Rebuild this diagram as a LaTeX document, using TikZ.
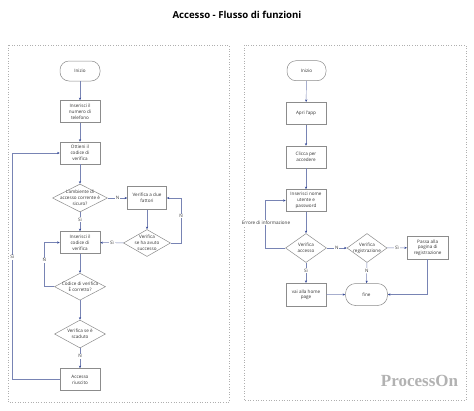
\documentclass[tikz,border=0pt]{standalone}
\usepackage{fontspec}
\setmainfont{Open Sans}
\newfontfamily\wmfont{Liberation Serif}
\usetikzlibrary{shapes.geometric,arrows.meta}
\definecolor{edgec}{RGB}{120,132,180}
\definecolor{tipc}{RGB}{50,70,150}
\definecolor{boxc}{RGB}{140,140,140}
\definecolor{panelc}{RGB}{175,175,175}
\tikzset{
  x=1pt,y=-1pt,
  txt/.style={font=\fontsize{4.6}{5.8}\selectfont, align=center, text=black!80},
  stepbox/.style={draw=boxc, line width=0.5pt, minimum width=40pt, minimum height=22pt, inner sep=1pt, txt},
  termbox/.style={stepbox, rounded corners=9pt, minimum height=20pt},
  decbox/.style={draw=boxc, line width=0.5pt, diamond, inner sep=0pt},
  dectxt/.style={txt},
  conn/.style={draw=edgec, line width=0.45pt, -{Stealth[length=2.6pt,width=2.2pt,color=tipc]}},
  elbl/.style={txt, fill=white, inner sep=0.8pt},
  panel/.style={draw=panelc, dotted, line width=0.6pt},
}
\begin{document}
\begin{tikzpicture}
\useasboundingbox (0,0) rectangle (474,410);
\fill[white] (0,0) rectangle (474,410);
\node[font=\fontsize{9.6}{11}\selectfont\bfseries] (title) at (237,15) {Accesso - Flusso di funzioni};
\draw[panel] (8,45) rectangle (229,402);
\draw[panel] (244,45) rectangle (466,400);
\node[font=\wmfont\bfseries\fontsize{17}{17}\selectfont, text=black!30] (wm) at (419.5,381) {ProcessOn};

% left flow
\node[termbox] (i1) at (80,71) {Inizio};
\node[stepbox] (n1) at (80,111.5) {Inserisci il\\numero di\\telefono};
\node[stepbox] (o1) at (80,153) {Ottieni il\\codice di\\verifica};
\node[decbox, minimum width=55pt, minimum height=28pt] (d1) at (80,198) {};
\node[dectxt] (d1t) at (d1.center) {L'ambiente di\\accesso corrente è\\sicuro?};
\node[stepbox, minimum width=39pt, minimum height=23pt] (v2) at (147,198) {Verifica a due\\fattori};
\node[decbox, minimum width=47pt, minimum height=27pt] (d2) at (147,243) {};
\node[dectxt] (d2t) at (d2.center) {Verifica\\se ha avuto\\successo};
\node[stepbox] (c1) at (80,242.5) {Inserisci il\\codice di\\verifica};
\node[decbox, minimum width=51pt, minimum height=27pt] (d3) at (80,286.7) {};
\node[dectxt] (d3t) at (d3.center) {Codice di verifica\\È corretto?};
\node[decbox, minimum width=51pt, minimum height=28pt] (d4) at (80,334) {};
\node[dectxt] (d4t) at (d4.center) {Verifica se è\\scaduto};
\node[stepbox] (a1) at (80,379.5) {Accesso\\riuscito};

\coordinate (lr) at (181,198);
\coordinate (ll) at (44.3,286.7);
\coordinate (lo) at (12.3,379.5);

\draw[conn] (i1) -- (n1);
\draw[conn] (n1) -- (o1);
\draw[conn] (o1) -- (d1);
\draw[conn] (d1) -- node[elbl]{N} (v2);
\draw[conn] (v2) -- (d2);
\draw[conn] (d2) -- node[elbl]{Sì} (c1);
\draw[conn] (d2.east) -| node[elbl, pos=0.8]{N} (lr) -- (v2.east);
\draw[conn] (d1) -- node[elbl, pos=0.4]{Sì} (c1);
\draw[conn] (c1) -- (d3);
\draw[conn] (d3.west) -- (ll) |- node[elbl, pos=0.3]{N} (c1.west);
\draw[conn] (d3) -- (d4);
\draw[conn] (d4) -- node[elbl, pos=0.4]{N} (a1);
\draw[conn] (a1.west) -- (lo) |- node[elbl, pos=0.27]{Sì} (o1.west);

% right flow
\node[termbox, minimum width=39pt] (ri) at (306.5,70.7) {Inizio};
\node[stepbox] (ap) at (306,113.3) {Apri l'app};
\node[stepbox] (cl) at (306,157) {Clicca per\\accedere};
\node[stepbox] (un) at (306,200.5) {Inserisci nome\\utente e\\password};
\node[decbox, minimum width=41pt, minimum height=29pt] (va) at (306,248) {};
\node[dectxt] (vat) at (va.center) {Verifica\\accesso};
\node[decbox, minimum width=40pt, minimum height=29pt] (vr) at (367,248) {};
\node[dectxt] (vrt) at (vr.center) {Verifica\\registrazione};
\node[stepbox, minimum width=41pt, minimum height=23pt] (pp) at (427.7,247.7) {Passa alla\\pagina di\\registrazione};
\node[stepbox, minimum height=23pt] (vh) at (306,294.7) {vai alla home\\page};
\node[termbox, minimum width=42pt, minimum height=22pt, rounded corners=10pt] (fi) at (366.5,294.5) {fine};

\coordinate (ve) at (265.3,248);
\coordinate (pf) at (427.7,294.5);

\draw[conn] (ri) -- (ap);
\draw[conn] (ap) -- (cl);
\draw[conn] (cl) -- (un);
\draw[conn] (un) -- (va);
\draw[conn] (va.west) -- (ve) |- (un.west);
\node[elbl] (err) at (266,222.7) {Errore di informazione};
\draw[conn] (va) -- node[elbl]{N} (vr);
\draw[conn] (vr) -- node[elbl]{Sì} (pp);
\draw[conn] (va) -- node[elbl, pos=0.4]{Sì} (vh);
\draw[conn] (vr) -- node[elbl, pos=0.4]{N} (fi);
\draw[conn] (vh) -- (fi);
\draw[conn] (pp.south) -- (pf) -- (fi.east);
\end{tikzpicture}
\end{document}
